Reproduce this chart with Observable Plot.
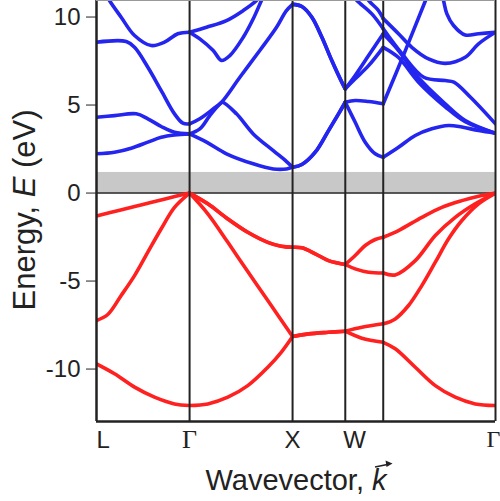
<!DOCTYPE html>
<html><head><meta charset="utf-8">
<script src="https://cdn.jsdelivr.net/npm/d3@7"></script>
<script src="https://cdn.jsdelivr.net/npm/@observablehq/plot@0.6"></script>
<style>body{margin:0;background:#fff}#chart{width:500px;height:501px}</style>
</head><body><div id="chart"></div>
<script>
// k-path symmetry points (2π/a units) and labels
const kTicks = [0, 0.883, 1.86, 2.36, 2.72, 3.785];
const kLabels = ["L", "Γ", "X", "W", "", "Γ"];
const energyTicks = [-10, -5, 0, 5, 10];
const energyRange = [-12.98, 10.94];
const gapTop = 1.17;

// valence bands [k, E(eV)]
const v1 = [[0,-1.3],[0.22,-0.98],[0.44,-0.65],[0.66,-0.32],[0.883,0],[1.056,-0.61],[1.246,-1.47],[1.435,-2.23],[1.625,-2.8],[1.752,-3.02],[1.86,-3.08],[1.948,-3.11],[2.075,-3.45],[2.201,-3.84],[2.36,-4.06],[2.454,-3.55],[2.549,-2.98],[2.644,-2.64],[2.72,-2.51],[2.865,-2.13],[3.086,-1.38],[3.276,-0.81],[3.466,-0.43],[3.624,-0.18],[3.785,0]];
const v1b = [[0.883,0],[1.056,-0.61],[1.246,-1.47],[1.435,-2.23],[1.625,-2.8],[1.752,-3.02],[1.86,-3.08],[1.948,-3.11],[2.075,-3.45],[2.201,-3.84],[2.36,-4.06],[2.454,-4.31],[2.58,-4.5],[2.72,-4.54],[2.834,-4.65],[3.024,-3.84],[3.214,-2.41],[3.403,-1.38],[3.593,-0.61],[3.785,0]];
const v2 = [[0,-7.24],[0.107,-6.9],[0.234,-5.82],[0.361,-4.69],[0.487,-3.36],[0.614,-2.03],[0.740,-0.81],[0.883,0],[1.056,-1.18],[1.246,-2.8],[1.435,-4.46],[1.625,-6.11],[1.86,-8.15],[2.011,-8.0],[2.201,-7.91],[2.36,-7.85],[2.517,-7.63],[2.72,-7.43],[2.834,-7.15],[2.960,-6.39],[3.086,-5.26],[3.214,-3.93],[3.340,-2.6],[3.466,-1.56],[3.624,-0.61],[3.785,0]];
const v3 = [[0,-9.71],[0.171,-10.27],[0.361,-11.03],[0.550,-11.6],[0.740,-11.98],[0.883,-12.07],[1.056,-11.98],[1.246,-11.6],[1.435,-10.94],[1.625,-9.9],[1.752,-9.05],[1.86,-8.15],[2.011,-8.0],[2.201,-7.91],[2.36,-7.85],[2.517,-8.25],[2.72,-8.48],[2.834,-8.85],[3.024,-9.9],[3.214,-10.94],[3.403,-11.6],[3.593,-11.98],[3.785,-12.07]];

// conduction bands [k, E(eV)]
const c1 = [[0,2.23],[0.171,2.32],[0.329,2.55],[0.487,2.89],[0.614,3.17],[0.740,3.3],[0.883,3.36],[1.044,2.89],[1.233,2.23],[1.487,1.66],[1.677,1.37],[1.803,1.37],[1.86,1.47],[1.948,1.62],[2.075,2.32],[2.201,3.55],[2.296,4.5],[2.36,5.16],[2.454,4.02],[2.549,2.89],[2.644,2.23],[2.72,2.03],[2.865,2.60],[3.024,3.27],[3.181,3.65],[3.340,3.84],[3.466,3.75],[3.624,3.55],[3.785,3.4]];
const c2 = [[0,4.31],[0.171,4.40],[0.377,4.5],[0.487,4.22],[0.614,3.78],[0.740,3.45],[0.883,3.36],[0.980,3.64],[1.075,4.40],[1.170,5.06],[1.195,5.16],[1.328,4.5],[1.487,3.36],[1.677,2.41],[1.803,1.79],[1.86,1.47],[1.948,1.62],[2.075,2.32],[2.201,3.55],[2.296,4.5],[2.36,5.16],[2.454,5.26],[2.58,5.2],[2.72,5.07],[2.922,7.98],[3.121,10.94],[3.18,11.8]];
const c3 = [[0,8.57],[0.282,8.61],[0.361,8.28],[0.487,7.15],[0.614,5.82],[0.740,4.5],[0.819,3.97],[0.883,3.93],[0.980,4.22],[1.107,4.78],[1.186,5.16],[1.360,6.58],[1.549,8.1],[1.708,9.42],[1.80,10.35],[1.86,10.72],[1.948,10.6],[2.043,9.99],[2.138,8.85],[2.232,7.53],[2.327,6.30],[2.36,5.92],[2.454,6.68],[2.581,7.81],[2.72,9.05],[2.865,8.10],[3.055,6.55],[3.308,5.07],[3.498,4.12],[3.785,3.4]];
const c4 = [[1.86,10.72],[1.948,10.6],[2.043,9.99],[2.138,8.85],[2.232,7.53],[2.327,6.30],[2.36,5.92],[2.454,6.49],[2.581,7.24],[2.72,8.28],[2.865,7.7],[3.055,6.3],[3.308,4.9],[3.498,4.05],[3.785,3.4]];
const c5 = [[0.08,11.4],[0.123,10.94],[0.234,9.99],[0.361,8.95],[0.519,8.38],[0.645,8.57],[0.771,9.05],[0.883,9.14],[1.044,9.42],[1.233,9.80],[1.392,10.37],[1.518,10.94],[1.58,11.4]];
const c6 = [[0.883,9.14],[0.980,8.76],[1.107,8.1],[1.186,7.53],[1.265,7.81],[1.392,8.85],[1.487,9.9],[1.565,10.94],[1.61,11.5]];
const c7 = [[2.42,11.3],[2.470,10.94],[2.612,10.18],[2.72,9.33],[2.90,7.9],[3.105,6.58],[3.308,6.39],[3.390,6.30],[3.548,5.44],[3.785,3.93]];
const c8 = [[2.55,11.3],[2.581,10.94],[2.666,10.43],[2.72,9.91],[2.865,9.05],[2.991,8.28],[3.150,7.62],[3.308,7.37],[3.498,7.72],[3.624,8.48],[3.785,9.14]];
const c9 = [[3.26,11.7],[3.292,10.94],[3.324,10.18],[3.387,9.52],[3.498,8.98],[3.624,9.05],[3.785,9.14]];

const RED = "#ff2020", BLUE = "#2525f0";
const valence = {v1, v1b, v2, v3};
const conduction = {c1, c2, c3, c4, c5, c6, c7, c8, c9};

function toRows(group) {
  const rows = [];
  for (const [name, pts] of Object.entries(group)) {
    for (let s = 0; s < kTicks.length - 1; s++) {
      const a = kTicks[s] - 1e-6, b = kTicks[s + 1] + 1e-6;
      const seg = pts.filter(p => p[0] >= a && p[0] <= b);
      if (seg.length > 1) seg.forEach(p => rows.push({id: name + "-" + s, k: p[0], E: p[1]}));
    }
  }
  return rows;
}
const vRows = toRows(valence);
const cRows = toRows(conduction);
const gapRow = [{k1: kTicks[0], k2: kTicks[kTicks.length - 1], e1: 0, e2: gapTop}];
const labelRows = kTicks.map((k, i) => ({k, label: kLabels[i], last: i === kTicks.length - 1})).filter(d => d.label);

const sans = "'Liberation Sans', Arial, Helvetica, sans-serif";
const serif = "'Liberation Serif', 'Times New Roman', serif";

const svg = Plot.plot({
  width: 500, height: 501,
  marginLeft: 96, marginRight: 5, marginTop: 0, marginBottom: 80,
  style: {fontFamily: sans, background: "#fff", color: "#222", overflow: "visible"},
  x: {domain: [kTicks[0], kTicks[kTicks.length - 1]], axis: null},
  y: {domain: energyRange, axis: null},
  marks: [
    Plot.rect(gapRow, {x1: "k1", x2: "k2", y1: "e1", y2: "e2", fill: "#c8c8c8"}),
    Plot.ruleY([0], {stroke: "#222", strokeWidth: 1.5}),
    Plot.line(vRows, {x: "k", y: "E", z: "id", stroke: RED, strokeWidth: 3.6, curve: "catmull-rom", clip: true, strokeLinecap: "round"}),
    Plot.line(cRows, {x: "k", y: "E", z: "id", stroke: BLUE, strokeWidth: 3.6, curve: "catmull-rom", clip: true, strokeLinecap: "round"}),
    Plot.ruleX(kTicks.slice(1), {stroke: "#222", strokeWidth: 2}),
    Plot.ruleX([kTicks[0]], {stroke: "#222", strokeWidth: 2.5}),
    Plot.ruleY([energyRange[0]], {stroke: "#222", strokeWidth: 2.5}),
    Plot.ruleY([energyRange[1]], {stroke: "#999", strokeWidth: 1}),
    Plot.axisY(energyTicks, {tickSize: 10, tickPadding: 6, fontSize: 24, tickFormat: d => String(d), label: null, stroke: "#222"}),
    Plot.text(labelRows.filter(d => d.label === "L"), {x: "k", text: "label", frameAnchor: "bottom", lineAnchor: "top", dy: 9, textAnchor: "start", fontSize: 24, fill: "#222"}),
    Plot.text(labelRows.filter(d => d.label === "X"), {x: "k", text: "label", frameAnchor: "bottom", lineAnchor: "top", dy: 9, fontSize: 24, fill: "#222"}),
    Plot.text(labelRows.filter(d => d.label === "W"), {x: "k", text: "label", frameAnchor: "bottom", lineAnchor: "top", dy: 9, dx: -2, textAnchor: "start", fontSize: 24, fill: "#222"}),
    Plot.text(labelRows.filter(d => d.label === "Γ" && !d.last), {x: "k", text: "label", frameAnchor: "bottom", lineAnchor: "top", dy: 8, fontSize: 26, fontFamily: serif, fill: "#222"}),
    Plot.text(labelRows.filter(d => d.label === "Γ" && d.last), {x: "k", text: "label", frameAnchor: "bottom", lineAnchor: "top", dy: 8, dx: -2, fontSize: 24, fontFamily: serif, fill: "#222"})
  ]
});
document.getElementById("chart").appendChild(svg);

const s = d3.select(svg);
// y-axis title
const yt = s.append("text").attr("transform", "translate(35,210) rotate(-90)")
  .attr("text-anchor", "middle").attr("fill", "#222")
  .style("font-family", sans).style("font-size", "31px");
yt.append("tspan").text("Energy, ");
yt.append("tspan").style("font-style", "italic").text("E");
yt.append("tspan").text(" (eV)");
// x-axis title
const xt = s.append("text").attr("x", 296).attr("y", 490)
  .attr("text-anchor", "middle").attr("fill", "#222")
  .style("font-family", sans).style("font-size", "29px");
xt.append("tspan").text("Wavevector, ");
xt.append("tspan").style("font-style", "italic").text("k");
const n = xt.node().getNumberOfChars();
const p0 = xt.node().getStartPositionOfChar(n - 1);
const p1 = xt.node().getEndPositionOfChar(n - 1);
const ax0 = p0.x + 3, ax1 = p1.x + 6, ay0 = 467, ay1 = 463.5;
s.append("line").attr("x1", ax0).attr("y1", ay0).attr("x2", ax1 - 4).attr("y2", ay1 + 0.7)
  .attr("stroke", "#222").attr("stroke-width", 1.6);
s.append("path").attr("d", `M${ax1},${ay1} L${ax1 - 7},${ay1 - 3} L${ax1 - 6},${ay1 + 3.5} Z`).attr("fill", "#222");
</script></body></html>
